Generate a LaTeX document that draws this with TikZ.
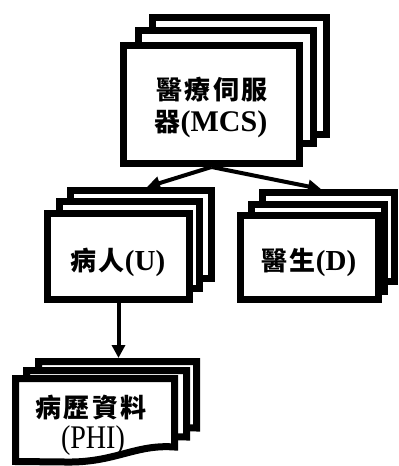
\documentclass[tikz,border=0pt]{standalone}
\usepackage{fontspec}
\usepackage{graphicx}
\setmainfont{Liberation Serif}
\newfontfamily\cjk[LetterSpace=8]{Noto Sans CJK TC}
\usetikzlibrary{arrows.meta}
\begin{document}
\begin{tikzpicture}[x=1pt,y=-1pt,
  box/.style={draw=black, fill=white, line width=7pt, inner sep=0pt, rectangle},
  doc/.style={draw=black, fill=white, line width=7pt, line join=miter},
  arr/.style={line width=4pt, -{Triangle[length=13pt,width=13pt]}},
  lbl/.style={inner sep=0pt, font=\bfseries}]
\useasboundingbox (0,0) rectangle (399,466);
% top stack
\node[box, minimum width=174pt, minimum height=117pt] (mcs3) at (239.5,76) {};
\node[box, minimum width=175pt, minimum height=113pt] (mcs2) at (226,87) {};
\node[box, minimum width=176pt, minimum height=118pt] (mcs) at (211.5,104.5) {};
\node[lbl] (mcst1) at (212,90) {\fontsize{26}{26}\selectfont\cjk 醫療伺服};
\node[lbl] (mcst2) at (211,124) {\fontsize{26}{26}\selectfont{\cjk 器}\fontsize{30}{30}\selectfont(MCS)};
% patient stack
\node[box, minimum width=141pt, minimum height=88pt] (pat3) at (141,234.5) {};
\node[box, minimum width=140pt, minimum height=87pt] (pat2) at (129.5,245) {};
\node[box, minimum width=142pt, minimum height=86pt] (pat) at (118.5,256.5) {};
\node[lbl] (patt) at (118,262) {\fontsize{26}{26}\selectfont{\cjk 病人}\fontsize{29}{29}\selectfont(U)};
% doctor stack
\node[box, minimum width=132pt, minimum height=89pt] (doc3) at (328.5,237) {};
\node[box, minimum width=133pt, minimum height=87pt] (doc2) at (318,248) {};
\node[box, minimum width=138pt, minimum height=84pt] (doc) at (309.5,257.5) {};
\node[lbl] (doct) at (309,262) {\fontsize{26}{26}\selectfont{\cjk 醫生}\fontsize{29}{29}\selectfont(D)};
% PHI stack
\draw[doc] (38.5,361.5) -- (196.5,361.5) -- (196.5,428) .. controls (160,426) and (140,444) .. (90,443) -- (38.5,442) -- cycle;
\draw[doc] (26.5,370.5) -- (186.5,370.5) -- (186.5,437) .. controls (150,435) and (130,453) .. (80,452) -- (26.5,451) -- cycle;
\draw[doc] (15.5,378.5) -- (174.5,378.5) -- (174.5,447) .. controls (135,444) and (115,463) .. (65,462) -- (15.5,461.5) -- cycle;
\node[lbl] (phit1) at (91,408) {\fontsize{26}{26}\selectfont\cjk 病歷資料};
\node[inner sep=0pt] (phit2) at (93,441) {\scalebox{0.85}[1]{\fontsize{33}{33}\selectfont(PHI)}};
% connectors
\coordinate (pl) at (147,187);
\coordinate (pr) at (321,189);
\coordinate (phitop) at (118.5,358);
\draw[arr] (mcs.south) -- (pl);
\draw[arr] (mcs.south) -- (pr);
\draw[arr] (pat.south) -- (phitop);
\end{tikzpicture}
\end{document}
